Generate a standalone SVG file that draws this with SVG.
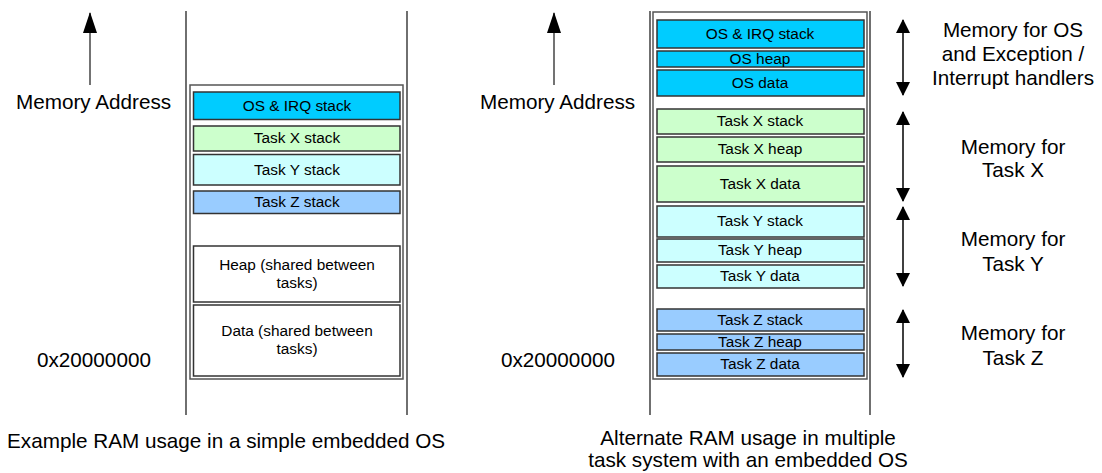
<svg xmlns="http://www.w3.org/2000/svg" width="1102" height="473" viewBox="0 0 1102 473">
<style>
text{font-family:"Liberation Sans",Arial,sans-serif;fill:#000}
.big{font-size:20.7px}
.lbl{font-size:15.4px;text-anchor:middle}
.mid{text-anchor:middle}
.box{stroke:#333;stroke-width:1.5}
.os{fill:#00CCFF}.tx{fill:#CCFFCC}.ty{fill:#CCFFFF}.tz{fill:#99CCFF}.wh{fill:#fff}
.outer{fill:none;stroke:#555;stroke-width:1.5}
.rail{stroke:#222;stroke-width:1.3}
.ax{stroke:#444;stroke-width:1.5;fill:none}
.arr{stroke:#000;stroke-width:1.5;fill:none}
</style>
<defs>
<marker id="ah" viewBox="0 0 21 14" refX="20" refY="7" markerWidth="21" markerHeight="14" markerUnits="userSpaceOnUse" orient="auto"><path d="M0,0 L21,7 L0,14 z" fill="#000"/></marker>
<marker id="ah2" viewBox="0 0 14 14" refX="13" refY="7" markerWidth="14" markerHeight="14" markerUnits="userSpaceOnUse" orient="auto-start-reverse"><path d="M0,0 L14,7 L0,14 z" fill="#000"/></marker>
</defs>

<g id="connectors">
<line class="ax" x1="90" y1="85" x2="90" y2="13" marker-end="url(#ah)"/>
<line class="ax" x1="554" y1="85" x2="554" y2="13" marker-end="url(#ah)"/>
<line class="arr" x1="903" y1="20" x2="903" y2="95" marker-start="url(#ah2)" marker-end="url(#ah2)"/>
<line class="arr" x1="903" y1="112" x2="903" y2="201" marker-start="url(#ah2)" marker-end="url(#ah2)"/>
<line class="arr" x1="903" y1="207" x2="903" y2="286" marker-start="url(#ah2)" marker-end="url(#ah2)"/>
<line class="arr" x1="903" y1="310" x2="903" y2="377" marker-start="url(#ah2)" marker-end="url(#ah2)"/>
</g>

<g id="left-layout">
<line class="rail" x1="186" y1="11" x2="186" y2="415"/>
<line class="rail" x1="407" y1="11" x2="407" y2="415"/>
<rect class="outer" x="190" y="85" width="213" height="294"/>
<text class="big" x="16" y="109">Memory Address</text>
<text class="big" x="37" y="367">0x20000000</text>
<text class="big" x="7" y="448">Example RAM usage in a simple embedded OS</text>
</g>
<g id="l-os-stack"><rect class="box os" x="193.5" y="92" width="206.5" height="27.5"/><text class="lbl" x="297" y="111">OS &amp; IRQ stack</text></g>
<g id="l-tx-stack"><rect class="box tx" x="193.5" y="126" width="206.5" height="25"/><text class="lbl" x="297" y="143">Task X stack</text></g>
<g id="l-ty-stack"><rect class="box ty" x="193.5" y="154.5" width="206.5" height="30.5"/><text class="lbl" x="297" y="175">Task Y stack</text></g>
<g id="l-tz-stack"><rect class="box tz" x="193.5" y="191" width="206.5" height="22.5"/><text class="lbl" x="297" y="207">Task Z stack</text></g>
<g id="l-heap"><rect class="box wh" x="193.5" y="246" width="206.5" height="56"/><text class="lbl" x="297" y="270">Heap (shared between</text><text class="lbl" x="297" y="288">tasks)</text></g>
<g id="l-data"><rect class="box wh" x="193.5" y="305" width="206.5" height="71"/><text class="lbl" x="297" y="336">Data (shared between</text><text class="lbl" x="297" y="354">tasks)</text></g>

<g id="right-layout">
<line class="rail" x1="650" y1="11" x2="650" y2="415"/>
<line class="rail" x1="870" y1="11" x2="870" y2="415"/>
<rect class="outer" x="653" y="12" width="214" height="367"/>
<text class="big" x="480" y="109">Memory Address</text>
<text class="big" x="501" y="367">0x20000000</text>
<text class="big mid" x="748" y="445">Alternate RAM usage in multiple</text>
<text class="big mid" x="748" y="467">task system with an embedded OS</text>
</g>
<g id="r-os-stack"><rect class="box os" x="657" y="20" width="207" height="28"/><text class="lbl" x="760" y="39">OS &amp; IRQ stack</text></g>
<g id="r-os-heap"><rect class="box os" x="657" y="51" width="207" height="16"/><text class="lbl" x="760" y="63.5">OS heap</text></g>
<g id="r-os-data"><rect class="box os" x="657" y="70" width="207" height="26"/><text class="lbl" x="760" y="87.5">OS data</text></g>
<g id="r-tx-stack"><rect class="box tx" x="657" y="109" width="207" height="25"/><text class="lbl" x="760" y="126">Task X stack</text></g>
<g id="r-tx-heap"><rect class="box tx" x="657" y="137" width="207" height="25"/><text class="lbl" x="760" y="154">Task X heap</text></g>
<g id="r-tx-data"><rect class="box tx" x="657" y="166" width="207" height="36"/><text class="lbl" x="760" y="189">Task X data</text></g>
<g id="r-ty-stack"><rect class="box ty" x="657" y="206" width="207" height="31"/><text class="lbl" x="760" y="226">Task Y stack</text></g>
<g id="r-ty-heap"><rect class="box ty" x="657" y="239" width="207" height="23"/><text class="lbl" x="760" y="255">Task Y heap</text></g>
<g id="r-ty-data"><rect class="box ty" x="657" y="265" width="207" height="23"/><text class="lbl" x="760" y="281">Task Y data</text></g>
<g id="r-tz-stack"><rect class="box tz" x="657" y="309" width="207" height="22"/><text class="lbl" x="760" y="325">Task Z stack</text></g>
<g id="r-tz-heap"><rect class="box tz" x="657" y="334" width="207" height="16"/><text class="lbl" x="760" y="347">Task Z heap</text></g>
<g id="r-tz-data"><rect class="box tz" x="657" y="353" width="207" height="23"/><text class="lbl" x="760" y="369">Task Z data</text></g>

<g id="labels">
<text class="big mid" x="1013" y="37">Memory for OS</text>
<text class="big mid" x="1013" y="61">and Exception /</text>
<text class="big mid" x="1013" y="85">Interrupt handlers</text>
<text class="big mid" x="1013" y="154">Memory for</text>
<text class="big mid" x="1013" y="177">Task X</text>
<text class="big mid" x="1013" y="246">Memory for</text>
<text class="big mid" x="1013" y="271">Task Y</text>
<text class="big mid" x="1013" y="340">Memory for</text>
<text class="big mid" x="1013" y="365">Task Z</text>
</g>
</svg>
